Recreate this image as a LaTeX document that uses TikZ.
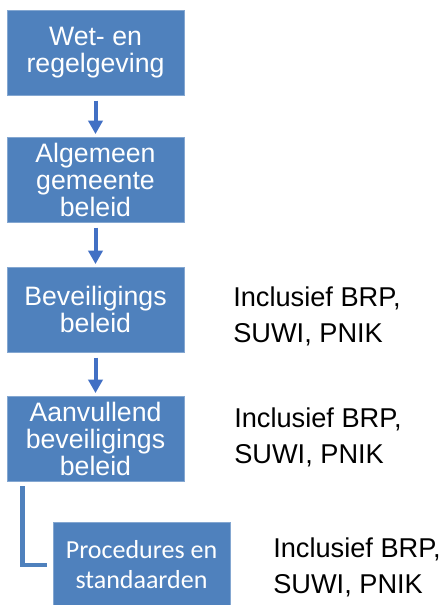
\documentclass[tikz,border=0pt]{standalone}
\usepackage{fontspec}
\setmainfont{Liberation Sans}
\newfontfamily\carlito{Carlito}
\usepackage{tikz}
\usetikzlibrary{arrows.meta}
\definecolor{boxblue}{RGB}{79,129,189}
\definecolor{arrowblue}{RGB}{66,112,196}
\begin{document}
\begin{tikzpicture}[x=0.75pt,y=-0.75pt,
  stepbox/.style={fill=boxblue,draw=boxblue!70!white,line width=0.4pt,
    minimum width=132.75pt,minimum height=63.75pt,inner sep=0pt,
    align=center,text=white,font=\fontsize{20}{20.25}\selectfont},
  flow/.style={draw=arrowblue,line width=3pt,
    -{Triangle[width=10.5pt,length=10pt]},shorten <=4pt,shorten >=2pt},
  elbow/.style={draw=boxblue,line width=3.4pt},
  note/.style={align=left,anchor=west,inner sep=0pt,
    font=\fontsize{20.4}{27}\selectfont}]
\useasboundingbox (0,0) rectangle (442,605);
\node[stepbox] (wet) at (95.5,52.5) {Wet- en\\regelgeving};
\node[stepbox] (algemeen) at (95.5,179.5) {Algemeen\\gemeente\\beleid};
\node[stepbox] (beveiliging) at (95.5,309.5) {Beveiligings\\beleid};
\node[stepbox] (aanvullend) at (95.5,438.5) {Aanvullend\\beveiligings\\beleid};
\node[stepbox,font=\carlito\fontsize{19.5}{22.5}\selectfont] (procedures) at (141.5,565) {Procedures en\\standaarden};
\node[note] (note1) at (233,316) {Inclusief BRP,\\SUWI, PNIK};
\node[note] (note2) at (234,437) {Inclusief BRP,\\SUWI, PNIK};
\node[note] (note3) at (273,567) {Inclusief BRP,\\SUWI, PNIK};
\draw[flow] (wet) -- (algemeen);
\draw[flow] (algemeen) -- (beveiliging);
\draw[flow] (beveiliging) -- (aanvullend);
\draw[elbow] ([xshift=12pt,yshift=-3.75pt]aanvullend.south west) |- ([xshift=-4.5pt]procedures.west);
\end{tikzpicture}
\end{document}
